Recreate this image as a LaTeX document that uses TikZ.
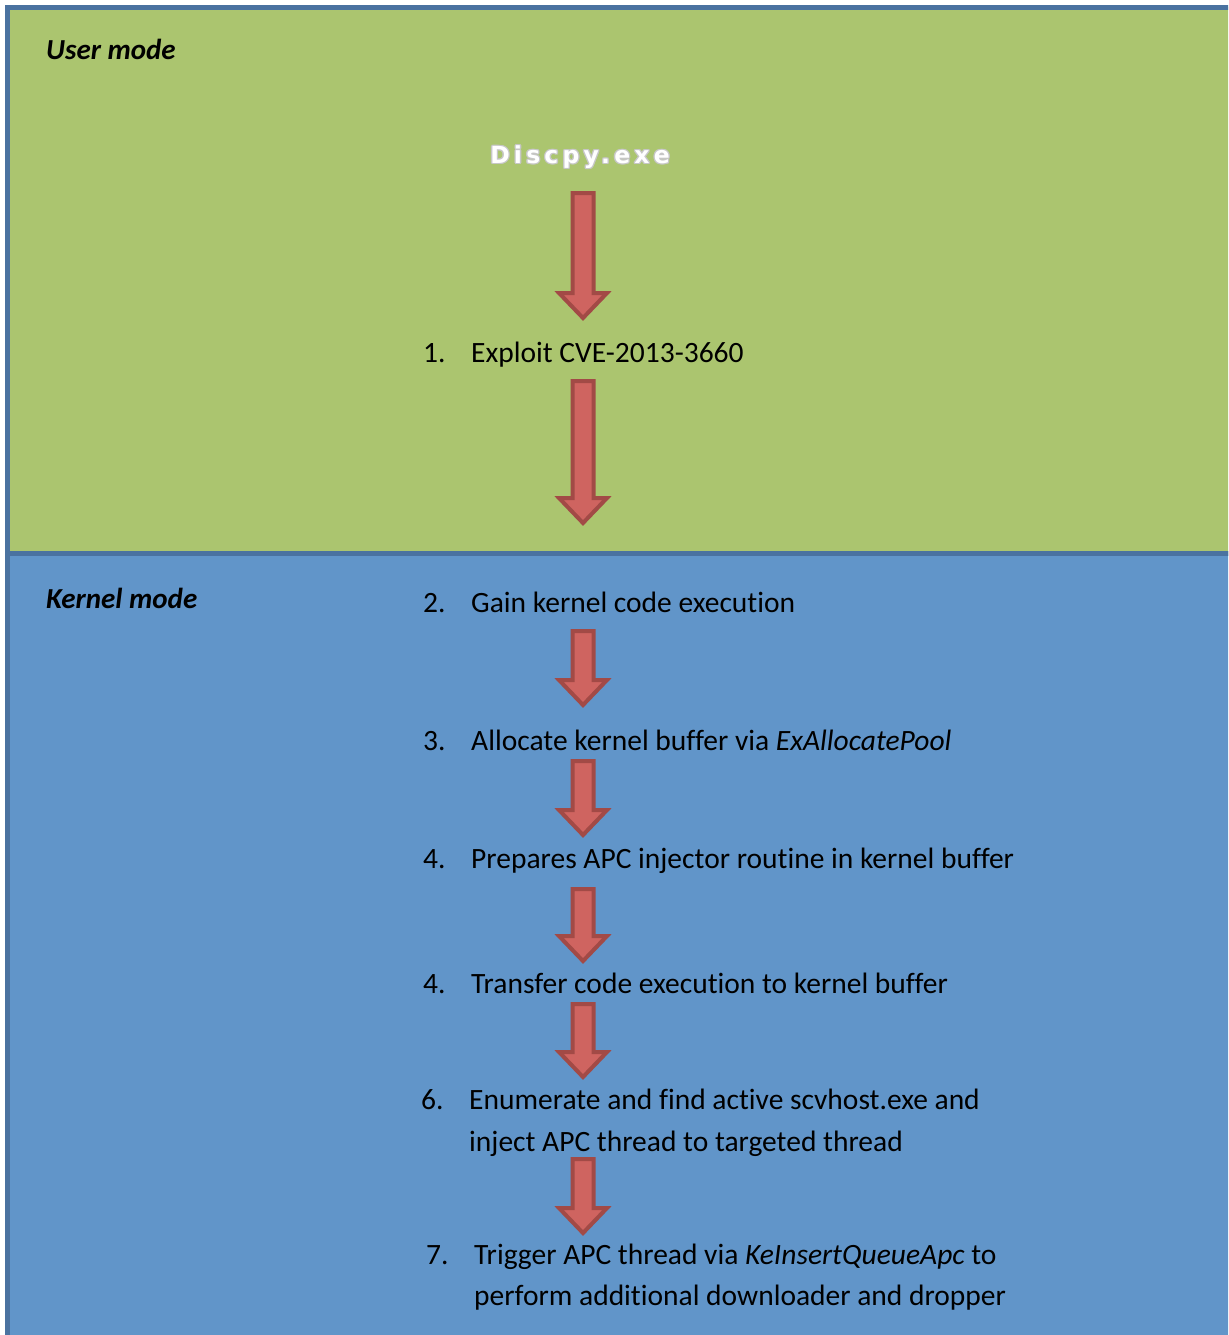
\documentclass[tikz,border=0pt]{standalone}
\usepackage{fontspec}
\setmainfont[Ligatures={NoCommon}]{Carlito}
\newfontfamily\discfont[LetterSpace=18]{DejaVu Sans Bold}
\definecolor{usergreen}{HTML}{ABC56F}
\definecolor{kernelblue}{HTML}{6195C9}
\definecolor{frameblue}{HTML}{4A72A0}
\definecolor{arrowfill}{HTML}{CF6460}
\definecolor{arrowline}{HTML}{A24A46}
\newcommand\blockarrow[3]{%
  \draw[arrowstyle] (#1-10.5,#2) -- (#1+10.5,#2) -- (#1+10.5,#3-25) -- (#1+24,#3-25)
    -- (#1,#3) -- (#1-24,#3-25) -- (#1-10.5,#3-25) -- cycle;}
\begin{document}
\begin{tikzpicture}[x=1pt,y=-1pt,
  arrowstyle/.style={fill=arrowfill,draw=arrowline,line width=4pt,line join=miter},
  zone/.style={draw=frameblue,line width=5pt},
  modelabel/.style={anchor=base west,inner sep=0,font=\fontsize{29}{34}\selectfont\bfseries\itshape},
  num/.style={anchor=base west,inner sep=0,font=\fontsize{29.5}{34}\selectfont},
  steptext/.style={anchor=base west,inner sep=0,font=\fontsize{29.5}{34}\selectfont}]
\useasboundingbox (0,0) rectangle (1228,1335);
\fill[white] (0,0) rectangle (1228,1335);
% zones
\begin{scope}
\clip (0,0) rectangle (1228,1335);
\draw[zone,fill=usergreen] (7.5,7.5) rectangle (1240,553.5);
\draw[zone,fill=kernelblue] (7.5,553.5) rectangle (1240,1350);
\end{scope}
\node[modelabel] (user) at (46,60) {User mode};
\node[modelabel] (kernel) at (46,608) {Kernel mode};
% Discpy.exe
\foreach \dx/\dy in {1.3/0,-1.3/0,0/1.3,0/-1.3,0.95/0.95,-0.95/0.95,0.95/-0.95,-0.95/-0.95}
  \node[text=black!22,font=\fontsize{23.5}{28}\selectfont\discfont,inner sep=0] at (580+\dx,157+\dy) {Discpy.exe};
\node[text=white,font=\fontsize{23.5}{28}\selectfont\discfont,inner sep=0] (disc) at (580,157) {Discpy.exe};
% steps
\node[num] (n1) at (423,362) {1.};
\node[steptext] (s1) at (471,362) {Exploit CVE-2013-3660};
\node[num] (n2) at (423,612) {2.};
\node[steptext] (s2) at (471,612) {Gain kernel code execution};
\node[num] (n3) at (423,750) {3.};
\node[steptext] (s3) at (471,750) {Allocate kernel buffer via \textit{ExAllocatePool}};
\node[num] (n4) at (423,868) {4.};
\node[steptext] (s4) at (471,868) {Prepares APC injector routine in kernel buffer};
\node[num] (n5) at (423,993) {4.};
\node[steptext] (s5) at (471,993) {Transfer code execution to kernel buffer};
\node[num] (n6) at (421,1109) {6.};
\node[steptext] (s6) at (469,1109) {Enumerate and find active scvhost.exe and};
\node[steptext] (s6b) at (469,1151) {inject APC thread to targeted thread};
\node[num] (n7) at (426,1264) {7.};
\node[steptext] (s7) at (474,1264) {Trigger APC thread via \textit{KeInsertQueueApc} to};
\node[steptext] (s7b) at (474,1305) {perform additional downloader and dropper};
% arrows
\blockarrow{583}{193}{318}
\blockarrow{583}{381}{523}
\blockarrow{583}{631}{705}
\blockarrow{583}{761}{835}
\blockarrow{583}{889}{961}
\blockarrow{583}{1004}{1077}
\blockarrow{583}{1159}{1233}
\end{tikzpicture}
\end{document}
